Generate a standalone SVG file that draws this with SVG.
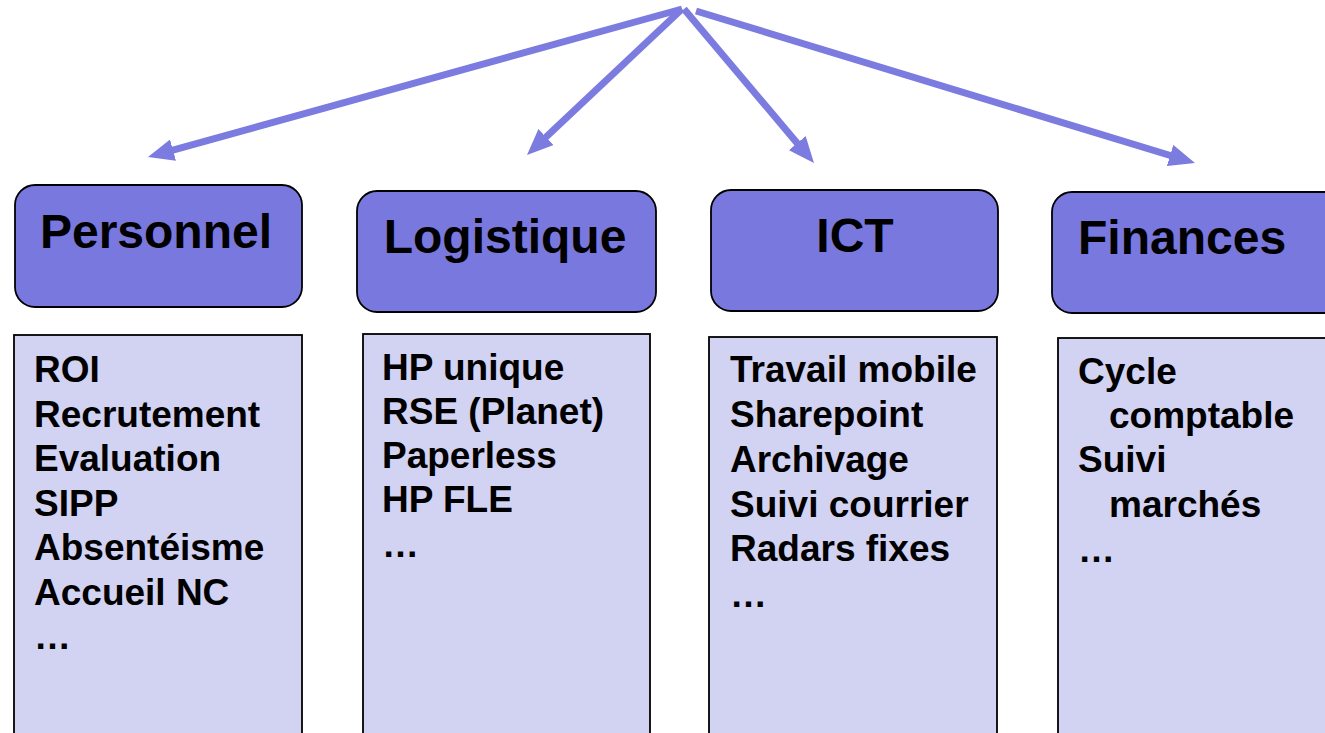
<svg xmlns="http://www.w3.org/2000/svg" width="1325" height="733" viewBox="0 0 1325 733">
<style>
.hdr{fill:#7878DE;stroke:#000;stroke-width:1.8}
.body{fill:#D2D2F2;stroke:#000;stroke-width:1.8}
.ht{font-family:"Liberation Sans",Arial,sans-serif;font-weight:bold;font-size:48px;fill:#000}
.bt{font-family:"Liberation Sans",Arial,sans-serif;font-weight:bold;font-size:37px;fill:#000}
.con{stroke:#7B7BE0;stroke-width:7;fill:none;marker-end:url(#ah)}
</style>
<defs>
<marker id="ah" markerUnits="userSpaceOnUse" markerWidth="26" markerHeight="22" viewBox="0 0 26 22" refX="2" refY="11" orient="auto">
<path d="M0,0 L26,11 L0,22 z" fill="#7B7BE0"/>
</marker>
</defs>
<rect width="1325" height="733" fill="#fff"/>
<g id="connectors">
<line class="con" x1="682" y1="9" x2="171.1" y2="150.6"/>
<line class="con" x1="682" y1="9" x2="544.5" y2="138.5"/>
<line class="con" x1="684" y1="9" x2="798.5" y2="144.7"/>
<line class="con" x1="696" y1="11" x2="1172" y2="156"/>
</g>
<g id="personnel">
<rect class="hdr" x="15" y="185" width="287" height="122" rx="20"/>
<text class="ht" x="156" y="248" text-anchor="middle">Personnel</text>
</g>
<g id="personnel-list">
<rect class="body" x="14" y="335" width="288" height="420"/>
<text class="bt" x="34" y="382">ROI</text>
<text class="bt" x="34" y="426.5">Recrutement</text>
<text class="bt" x="34" y="471">Evaluation</text>
<text class="bt" x="34" y="515.5">SIPP</text>
<text class="bt" x="34" y="560">Absentéisme</text>
<text class="bt" x="34" y="604.5">Accueil NC</text>
<text class="bt" x="34" y="649">…</text>
</g>
<g id="logistique">
<rect class="hdr" x="357" y="191" width="299" height="121" rx="20"/>
<text class="ht" x="505" y="253" text-anchor="middle">Logistique</text>
</g>
<g id="logistique-list">
<rect class="body" x="363" y="334" width="287" height="420"/>
<text class="bt" x="382" y="380">HP unique</text>
<text class="bt" x="382" y="424">RSE (Planet)</text>
<text class="bt" x="382" y="468">Paperless</text>
<text class="bt" x="382" y="512">HP FLE</text>
<text class="bt" x="382" y="557">…</text>
</g>
<g id="ict">
<rect class="hdr" x="711" y="190" width="287" height="121" rx="20"/>
<text class="ht" x="855" y="252" text-anchor="middle">ICT</text>
</g>
<g id="ict-list">
<rect class="body" x="709" y="337" width="288" height="420"/>
<text class="bt" x="730" y="382">Travail mobile</text>
<text class="bt" x="730" y="427">Sharepoint</text>
<text class="bt" x="730" y="472">Archivage</text>
<text class="bt" x="730" y="517">Suivi courrier</text>
<text class="bt" x="730" y="561">Radars fixes</text>
<text class="bt" x="730" y="607">…</text>
</g>
<g id="finances">
<rect class="hdr" x="1052" y="192" width="300" height="121" rx="20"/>
<text class="ht" x="1078" y="254">Finances</text>
</g>
<g id="finances-list">
<rect class="body" x="1058" y="338" width="300" height="420"/>
<text class="bt" x="1078" y="384">Cycle</text>
<text class="bt" x="1109" y="428">comptable</text>
<text class="bt" x="1078" y="472">Suivi</text>
<text class="bt" x="1109" y="517">marchés</text>
<text class="bt" x="1078" y="562">…</text>
</g>
</svg>
